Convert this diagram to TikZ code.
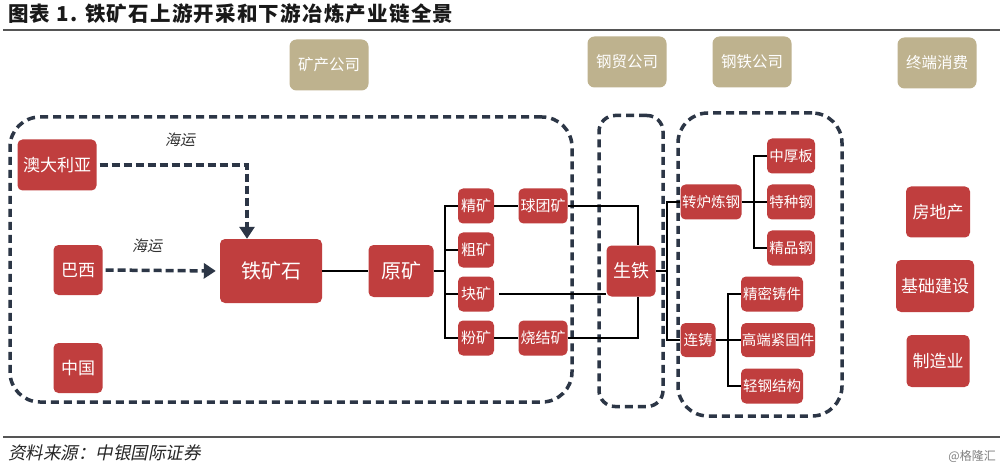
\documentclass[tikz,border=0pt]{standalone}
\usepackage{fontspec}
\setmainfont{Noto Sans CJK SC}
\newfontfamily\slfont[FakeSlant=0.2]{Noto Sans CJK SC}
\newfontfamily\titlefont[LetterSpace=6]{Noto Sans CJK SC}
\usetikzlibrary{arrows.meta}
\definecolor{boxred}{RGB}{192,62,62}
\definecolor{boxtan}{RGB}{190,178,142}
\definecolor{navy}{RGB}{44,54,70}
\definecolor{rulegray}{RGB}{85,85,85}
\begin{document}
\begin{tikzpicture}[x=1pt,y=-1pt,
  rbox/.style={rounded corners=5pt, fill=boxred, text=white, inner sep=0pt, font=\fontsize{15}{15}\selectfont},
  rbig/.style={rbox, font=\fontsize{20}{20}\selectfont},
  rmid/.style={rbox, font=\fontsize{17}{17}\selectfont},
  rsm/.style={rbox, font=\fontsize{14.5}{14.5}\selectfont},
  tbox/.style={rounded corners=7pt, fill=boxtan, text=white, inner sep=0pt, minimum width=79pt, minimum height=51pt, font=\fontsize{15.5}{16}\selectfont},
  grp/.style={draw=navy, line width=3.5pt, dash pattern=on 8pt off 5pt, rounded corners=30pt, inner sep=0pt},
  link/.style={draw=black, line width=2.5pt},
  sea/.style={draw=navy, line width=3.5pt, dash pattern=on 8pt off 4pt, -{Triangle[length=12pt,width=15pt]}},
  lbl/.style={text=black!80, font=\slfont\fontsize{15}{15}\selectfont, inner sep=0pt},
  hrule/.style={draw=rulegray, line width=1.5pt}]
\fill[white] (0,0) rectangle (1000,470);
\useasboundingbox (0,0) rectangle (1000,470);
% title and rules
\node[anchor=west, inner sep=0pt, text=black!90, font=\titlefont\bfseries\fontsize{20.5}{21}\selectfont] (title) at (8,14) {图表 1. 铁矿石上游开采和下游冶炼产业链全景};
\coordinate (r1a) at (3,30); \coordinate (r1b) at (1000,30);
\draw[hrule] (r1a) -- (r1b);
\coordinate (r2a) at (3,437); \coordinate (r2b) at (1000,437);
\draw[hrule] (r2a) -- (r2b);
\node[anchor=west, inner sep=0pt, text=black!85, font=\slfont\fontsize{17.5}{18}\selectfont] (src) at (8,453) {资料来源：中银国际证券};
\node[anchor=east, inner sep=0pt, text=black!50, font=\fontsize{12}{12}\selectfont] (wm) at (996,456) {@格隆汇};
% header boxes
\node[tbox] (hd1) at (329,65) {矿产公司};
\node[tbox] (hd2) at (627,62) {钢贸公司};
\node[tbox] (hd3) at (752,62) {钢铁公司};
\node[tbox] (hd4) at (937,63) {终端消费};
% group boxes
\node[grp, minimum width=562pt, minimum height=285pt] (g1) at (291,259.5) {};
\node[grp, rounded corners=16pt, minimum width=64pt, minimum height=291pt] (g2) at (631,261) {};
\node[grp, minimum width=164pt, minimum height=303pt] (g3) at (760,264.5) {};
% mining section
\node[rmid, minimum width=79pt, minimum height=51pt] (aus) at (57,165) {澳大利亚};
\node[rmid, minimum width=49pt, minimum height=50pt] (bx) at (78,270) {巴西};
\node[rmid, minimum width=49pt, minimum height=50pt] (zg) at (78,368) {中国};
\node[rbig, minimum width=102pt, minimum height=64pt] (tks) at (271,271) {铁矿石};
\node[rbig, minimum width=65pt, minimum height=52pt] (yuan) at (401,271) {原矿};
\node[rbox, minimum width=36pt, minimum height=35pt] (jing) at (476,206) {精矿};
\node[rbox, minimum width=36pt, minimum height=35pt] (cu) at (476,250) {粗矿};
\node[rbox, minimum width=36pt, minimum height=35pt] (kuai) at (476,294) {块矿};
\node[rbox, minimum width=36pt, minimum height=35pt] (fen) at (476,338) {粉矿};
\node[rbox, minimum width=49pt, minimum height=35pt] (qiu) at (543,206) {球团矿};
\node[rbox, minimum width=49pt, minimum height=35pt] (shao) at (543,338) {烧结矿};
\node[lbl] (sea1) at (180,140) {海运};
\node[lbl] (sea2) at (147,246) {海运};
% trade
\node[rbox, font=\fontsize{18}{18}\selectfont, minimum width=49pt, minimum height=51pt] (sheng) at (631,271) {生铁};
% steel
\node[rsm, minimum width=61pt, minimum height=35pt] (zhuan) at (711,202) {转炉炼钢};
\node[rsm, minimum width=35pt, minimum height=34pt] (lian) at (698,340) {连铸};
\node[rsm, minimum width=48pt, minimum height=35pt] (zhb) at (791,156) {中厚板};
\node[rsm, minimum width=48pt, minimum height=35pt] (tzg) at (791,202) {特种钢};
\node[rsm, minimum width=48pt, minimum height=35pt] (jpg) at (791,248) {精品钢};
\node[rsm, minimum width=62pt, minimum height=35pt] (jmzj) at (772,294) {精密铸件};
\node[rsm, minimum width=74pt, minimum height=34pt] (gdjg) at (778,340) {高端紧固件};
\node[rsm, minimum width=62pt, minimum height=35pt] (qgjg) at (772,386) {轻钢结构};
% end use
\node[rmid, minimum width=64pt, minimum height=51pt] (fdc) at (938,212) {房地产};
\node[rmid, minimum width=78pt, minimum height=52pt] (jcjs) at (935,286) {基础建设};
\node[rmid, minimum width=63pt, minimum height=52pt] (zzy) at (938,361) {制造业};
% shipping arrows
\draw[sea, shorten <=3pt] (aus.east) -| ([xshift=-24pt]tks.north);
\draw[sea, shorten <=3pt, shorten >=4pt] (bx.east) -- (tks.west);
% connectors
\draw[link] (tks) -- (yuan);
\coordinate (ja) at (445,271);
\draw[link] (yuan.east) -- (ja);
\draw[link] (jing.west) -| (ja) |- (fen.west);
\draw[link] (cu.west) -- (cu.west -| ja);
\draw[link] (kuai.west) -- (kuai.west -| ja);
\draw[link] (jing) -- (qiu);
\draw[link] (fen) -- (shao);
\draw[link] (qiu.east) -| ([xshift=7pt]sheng.north);
\draw[link] (shao.east) -| ([xshift=7pt]sheng.south);
\draw[link, shorten <=5pt] (kuai.east) -- (kuai.east -| sheng.west);
\coordinate (jb) at (667,271);
\draw[link] (sheng.east) -- (jb);
\draw[link] (zhuan.west) -| (jb) |- (lian.west);
\coordinate (jc) at (754,202);
\draw[link] (zhuan.east) -- (jc);
\draw[link] (zhb.west) -| (jc) |- (jpg.west);
\draw[link] (tzg.west) -- (jc);
\coordinate (jd) at (728,340);
\draw[link] (lian.east) -- (jd);
\draw[link] (jmzj.west) -| (jd) |- (qgjg.west);
\draw[link] (gdjg.west) -- (jd);
\end{tikzpicture}
\end{document}
